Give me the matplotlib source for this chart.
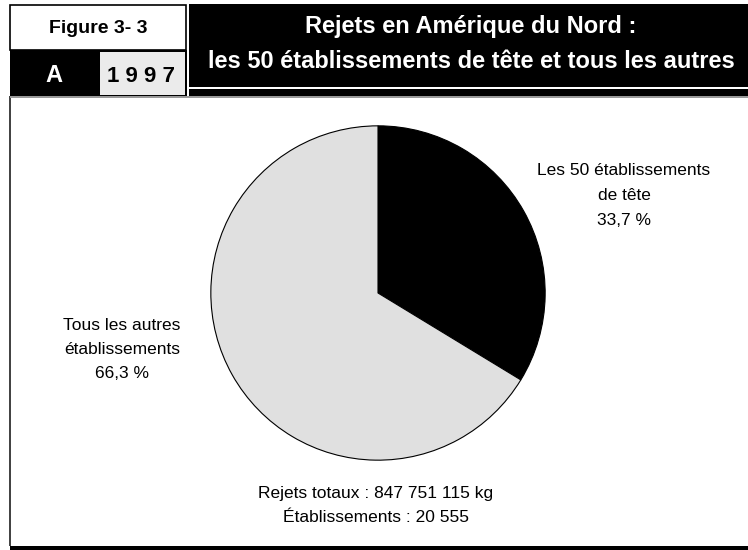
import matplotlib.pyplot as plt
from matplotlib.patches import Rectangle

# === DATA ===
shares = [33.7, 66.3]
slice_colors = ["#000000", "#e0e0e0"]
slice_labels = ["Les 50 établissements\nde tête\n33,7 %",
                "Tous les autres\nétablissements\n66,3 %"]
fig_label = "Figure 3- 3"
panel = "A"
year = "1 9 9 7"
title = "Rejets en Amérique du Nord :\nles 50 établissements de tête et tous les autres"
footer = "Rejets totaux : 847 751 115 kg\nÉtablissements : 20 555"

W, H = 748, 550
FONT = ["Liberation Sans", "DejaVu Sans"]

fig = plt.figure(figsize=(W / 100, H / 100), dpi=100)


def px_rect(x0, y0, x1, y1, **kw):
    # rectangle in pixel coords, y measured from the top
    fig.patches.append(Rectangle((x0 / W, 1 - y1 / H), (x1 - x0) / W, (y1 - y0) / H,
                                 transform=fig.transFigure, **kw))


def px_lines(x, y, step, s, **kw):
    # one text per line, y is the baseline of the first line
    for i, line in enumerate(s.split("\n")):
        fig.text(x / W, 1 - (y + i * step) / H, line, ha="center", va="baseline",
                 family=FONT, **kw)


# header boxes
px_rect(10, 5, 186, 50, facecolor="white", edgecolor="black", linewidth=1.2)
px_rect(10, 50, 187, 97, facecolor="black", edgecolor="none")
px_rect(100, 52, 185, 95, facecolor="#ebebeb", edgecolor="none")
px_rect(189, 4, 748, 87, facecolor="black", edgecolor="none")
px_rect(189, 89, 748, 96, facecolor="black", edgecolor="none")

# main panel borders
px_rect(9, 96, 11, 546, facecolor="#444444", edgecolor="none")
px_rect(10, 96, 748, 97.5, facecolor="#999999", edgecolor="none")
px_rect(10, 546, 748, 550, facecolor="black", edgecolor="none")

px_lines(98, 33, 0, fig_label, fontsize=14, fontweight="bold")
px_lines(54, 82, 0, panel, fontsize=17, fontweight="bold", color="white")
px_lines(141, 82, 0, year, fontsize=16, fontweight="bold")
px_lines(471, 33, 35, title, fontsize=17, fontweight="bold", color="white")

# pie
cx, cy, r = 378, 293, 168
ax = fig.add_axes([(cx - r) / W, 1 - (cy + r) / H, 2 * r / W, 2 * r / H])
ax.pie(shares, colors=slice_colors, startangle=90, counterclock=False,
       radius=1, wedgeprops=dict(edgecolor="black", linewidth=0.8))
ax.set_xlim(-1.005, 1.005)
ax.set_ylim(-1.005, 1.005)
ax.set_aspect("equal")
ax.axis("off")

px_lines(624, 175, 25, slice_labels[0], fontsize=12.5)
px_lines(122, 330, 24, slice_labels[1], fontsize=12.5)
px_lines(376, 498, 24, footer, fontsize=12.5)

fig.savefig("out.png", dpi=100)
